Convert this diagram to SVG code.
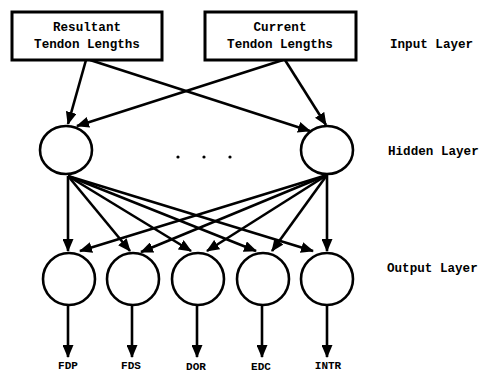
<svg xmlns="http://www.w3.org/2000/svg" width="483" height="373" viewBox="0 0 483 373">
  <defs>
    <marker id="arrow" markerUnits="userSpaceOnUse" markerWidth="13" markerHeight="11" refX="12" refY="5.5" orient="auto">
      <path d="M0,0 L13,5.5 L0,11 z" fill="#000"/>
    </marker>
    <style>
      .box { fill: #fff; stroke: #000; stroke-width: 3; }
      .node { fill: #fff; stroke: #000; stroke-width: 2.6; }
      .edge { stroke: #000; stroke-width: 2.6; fill: none; marker-end: url(#arrow); }
      .txt { font-family: "Liberation Mono", "DejaVu Sans Mono", monospace; font-weight: bold; font-size: 12.6px; fill: #000; }
      .lbl { font-family: "Liberation Mono", "DejaVu Sans Mono", monospace; font-weight: bold; font-size: 11px; fill: #000; text-anchor: middle; }
      .mid { text-anchor: middle; }
    </style>
  </defs>
  <rect width="483" height="373" fill="#fff"/>

  <!-- connectors -->
  <g id="connectors">
    <!-- inputs to hidden layer -->
    <line class="edge" x1="86" y1="60" x2="68" y2="124"/>
    <line class="edge" x1="90" y1="60" x2="310" y2="131"/>
    <line class="edge" x1="283" y1="60" x2="77" y2="126"/>
    <line class="edge" x1="285" y1="60" x2="326" y2="125"/>
    <!-- left hidden to outputs -->
    <line class="edge" x1="68" y1="176" x2="68" y2="251"/>
    <line class="edge" x1="68" y1="176" x2="130" y2="251"/>
    <line class="edge" x1="68" y1="176" x2="191" y2="251"/>
    <line class="edge" x1="68" y1="176" x2="256" y2="251"/>
    <line class="edge" x1="68" y1="176" x2="313" y2="251"/>
    <!-- right hidden to outputs -->
    <line class="edge" x1="327" y1="175" x2="80" y2="251"/>
    <line class="edge" x1="327" y1="175" x2="141" y2="252"/>
    <line class="edge" x1="327" y1="175" x2="207" y2="251"/>
    <line class="edge" x1="327" y1="175" x2="272" y2="251"/>
    <line class="edge" x1="327" y1="175" x2="327" y2="251"/>
    <!-- outputs -->
    <line class="edge" x1="68" y1="305" x2="68" y2="357"/>
    <line class="edge" x1="132" y1="305" x2="132" y2="357"/>
    <line class="edge" x1="197" y1="305" x2="197" y2="357"/>
    <line class="edge" x1="262" y1="305" x2="262" y2="357"/>
    <line class="edge" x1="327" y1="305" x2="327" y2="357"/>
  </g>

  <!-- input layer -->
  <g id="input-resultant">
    <rect class="box" x="12" y="12" width="150" height="48"/>
    <text class="txt mid" x="87" y="31">Resultant</text>
    <text class="txt mid" x="87" y="48">Tendon Lengths</text>
  </g>
  <g id="input-current">
    <rect class="box" x="205" y="12" width="151" height="48"/>
    <text class="txt mid" x="280" y="31">Current</text>
    <text class="txt mid" x="280" y="48">Tendon Lengths</text>
  </g>

  <!-- hidden layer -->
  <g id="hidden-1">
    <ellipse class="node" cx="66" cy="150" rx="26" ry="24"/>
  </g>
  <g id="hidden-dots">
    <circle cx="178" cy="157" r="1.6" fill="#000"/>
    <circle cx="204" cy="157" r="1.6" fill="#000"/>
    <circle cx="230" cy="157" r="1.6" fill="#000"/>
  </g>
  <g id="hidden-n">
    <ellipse class="node" cx="327" cy="150" rx="26" ry="24"/>
  </g>

  <!-- output layer -->
  <g id="out-fdp">
    <ellipse class="node" cx="69" cy="279" rx="26" ry="26"/>
    <text class="lbl" x="68" y="369">FDP</text>
  </g>
  <g id="out-fds">
    <ellipse class="node" cx="133" cy="279" rx="26" ry="26"/>
    <text class="lbl" x="131" y="369">FDS</text>
  </g>
  <g id="out-dor">
    <ellipse class="node" cx="198" cy="279" rx="26" ry="26"/>
    <text class="lbl" x="196" y="370">DOR</text>
  </g>
  <g id="out-edc">
    <ellipse class="node" cx="263" cy="279" rx="26" ry="26"/>
    <text class="lbl" x="261" y="370">EDC</text>
  </g>
  <g id="out-intr">
    <ellipse class="node" cx="327" cy="279" rx="26" ry="26"/>
    <text class="lbl" x="328" y="369">INTR</text>
  </g>

  <!-- layer captions -->
  <g id="captions">
    <text class="txt" x="390" y="48">Input Layer</text>
    <text class="txt" x="388" y="155">Hidden Layer</text>
    <text class="txt" x="387" y="272">Output Layer</text>
  </g>
</svg>
